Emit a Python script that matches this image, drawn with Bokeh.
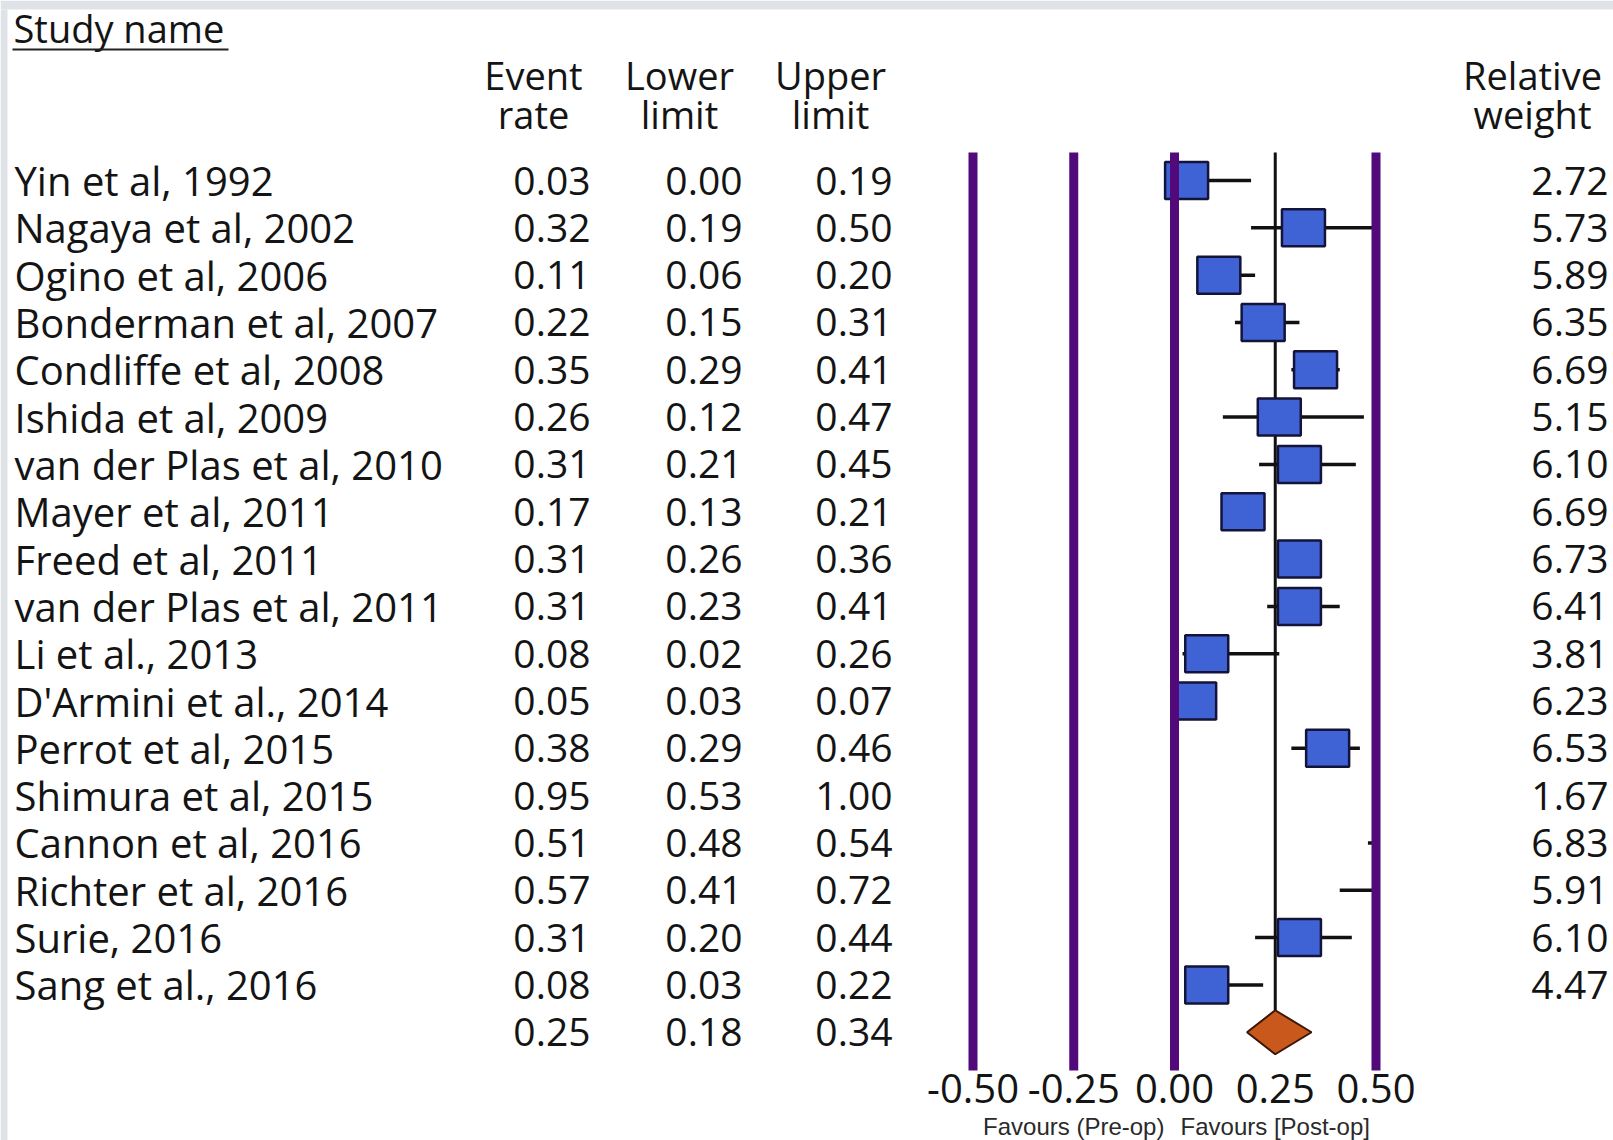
from bokeh.plotting import figure
from bokeh.models import Range1d, ColumnDataSource
from bokeh.core.properties import value
from bokeh.embed import file_html
from bokeh.resources import INLINE
import numpy as np

# ---------------- data ----------------
studies = ["Yin et al, 1992", "Nagaya et al, 2002", "Ogino et al, 2006",
           "Bonderman et al, 2007", "Condliffe et al, 2008", "Ishida et al, 2009",
           "van der Plas et al, 2010", "Mayer et al, 2011", "Freed et al, 2011",
           "van der Plas et al, 2011", "Li et al., 2013", "D'Armini et al., 2014",
           "Perrot et al, 2015", "Shimura et al, 2015", "Cannon et al, 2016",
           "Richter et al, 2016", "Surie, 2016", "Sang et al., 2016"]
event_rate = [0.03, 0.32, 0.11, 0.22, 0.35, 0.26, 0.31, 0.17, 0.31, 0.31,
              0.08, 0.05, 0.38, 0.95, 0.51, 0.57, 0.31, 0.08]
lower_limit = [0.00, 0.19, 0.06, 0.15, 0.29, 0.12, 0.21, 0.13, 0.26, 0.23,
               0.02, 0.03, 0.29, 0.53, 0.48, 0.41, 0.20, 0.03]
upper_limit = [0.19, 0.50, 0.20, 0.31, 0.41, 0.47, 0.45, 0.21, 0.36, 0.41,
               0.26, 0.07, 0.46, 1.00, 0.54, 0.72, 0.44, 0.22]
rel_weight = [2.72, 5.73, 5.89, 6.35, 6.69, 5.15, 6.10, 6.69, 6.73, 6.41,
              3.81, 6.23, 6.53, 1.67, 6.83, 5.91, 6.10, 4.47]
pooled_rate = 0.25
pooled_lower = 0.18
pooled_upper = 0.34
axis_ticks = [-0.50, -0.25, 0.00, 0.25, 0.50]
ref_lines = [-0.50, -0.25, 0.00, 0.50]
favour_labels = ["Favours (Pre-op)", "Favours [Post-op]"]
favour_pos = [-0.25, 0.25]
x_min, x_max = -0.5, 0.5

# ---------------- layout helpers ----------------
W, H = 1613, 1140
PXU = 403.0                      # pixels per unit on the forest axis
X0 = x_min - 972.5 / PXU
X1 = X0 + W / PXU
RH = 47.32                       # row height in pixels
ROW0 = 180.0                     # centre of first row in pixels
Y_T = -ROW0 / RH
Y_B = Y_T + H / RH

def xd(px):
    return X0 + px / PXU

def yd(py):
    return (py - ROW0) / RH

FONT = value("Open Sans")
TXT = "#141414"
FS = "39px"
n = len(studies)
rows = np.arange(n)
summary_row = n

p = figure(width=W, height=H, x_range=Range1d(X0, X1), y_range=Range1d(Y_B, Y_T),
           output_backend="svg", toolbar_location=None,
           x_axis_location=None, y_axis_location=None, min_border=0)
p.grid.visible = False
p.outline_line_color = None
p.background_fill_color = "#ffffff"
p.border_fill_color = "#ffffff"

# page frame bands
gray = "#dfe3e8"
p.quad(left=X0, right=X1, top=Y_T, bottom=yd(9), fill_color=gray, line_color=None)
p.quad(left=X0, right=xd(7), top=yd(9), bottom=Y_B, fill_color=gray, line_color=None)

# ---------------- headers ----------------
p.text(x=[xd(13)], y=[yd(27)], text=["Study name"], text_font=FONT,
       text_font_size="38px", text_color=TXT, text_baseline="middle")
p.segment(x0=[xd(12)], y0=[yd(49)], x1=[xd(228)], y1=[yd(49)],
          line_color="#222222", line_width=2)

hdr_x = [xd(533), xd(679), xd(830), xd(1532)]
hdr1 = ["Event", "Lower", "Upper", "Relative"]
hdr2 = ["rate", "limit", "limit", "weight"]
p.text(x=hdr_x, y=[yd(74)] * 4, text=hdr1, text_font=FONT, text_font_size="38px",
       text_color=TXT, text_align="center", text_baseline="middle")
p.text(x=hdr_x, y=[yd(113)] * 4, text=hdr2, text_font=FONT, text_font_size="38px",
       text_color=TXT, text_align="center", text_baseline="middle")

# ---------------- table columns ----------------
yc = list(rows.astype(float))
p.text(x=[xd(14)] * n, y=yc, text=studies, text_font=FONT, text_font_size="40px",
       text_color=TXT, text_baseline="middle")

col_er = [f"{v:.2f}" for v in event_rate] + [f"{pooled_rate:.2f}"]
col_lo = [f"{v:.2f}" for v in lower_limit] + [f"{pooled_lower:.2f}"]
col_hi = [f"{v:.2f}" for v in upper_limit] + [f"{pooled_upper:.2f}"]
yc_all = list(np.arange(n + 1).astype(float))
for colx, col in ((590, col_er), (742, col_lo), (892, col_hi)):
    p.text(x=[xd(colx)] * (n + 1), y=yc_all, text=col, text_font=FONT,
           text_font_size=FS, text_color=TXT, text_align="right",
           text_baseline="middle")
p.text(x=[xd(1608)] * n, y=yc, text=[f"{v:.2f}" for v in rel_weight], text_font=FONT,
       text_font_size=FS, text_color=TXT, text_align="right",
       text_baseline="middle")

# ---------------- forest plot ----------------
dia_h = 22.0 / RH
line_top = yd(152)
line_bot = yd(1070)

# pooled estimate line
p.segment(x0=[pooled_rate], y0=[line_top], x1=[pooled_rate], y1=[summary_row - dia_h],
          line_color="#111111", line_width=3)

# whiskers (clipped to the axis range)
er = np.array(event_rate)
lo = np.clip(np.array(lower_limit), x_min, x_max)
hi = np.clip(np.array(upper_limit), x_min, x_max)
wm = np.array(lower_limit) < x_max
p.segment(x0=lo[wm], y0=rows[wm], x1=hi[wm], y1=rows[wm],
          line_color="#111111", line_width=3.5)

# boxes (only estimates inside the axis range)
bm = (er >= x_min) & (er <= x_max)
box_src = ColumnDataSource(dict(x=er[bm], y=rows[bm], w=np.array(rel_weight)[bm]))
p.rect(x="x", y="y", width=43, height=37, width_units="screen", height_units="screen",
       source=box_src, fill_color="#3f62d4", line_color="#14143a", line_width=2.5)

# summary diamond
p.patch(x=[pooled_lower, pooled_rate, pooled_upper, pooled_rate],
        y=[summary_row, summary_row - dia_h, summary_row, summary_row + dia_h],
        fill_color="#c9581c", line_color="#3a1706", line_width=2)

# reference lines
p.segment(x0=ref_lines, y0=[line_top] * len(ref_lines), x1=ref_lines,
          y1=[line_bot] * len(ref_lines), line_color="#520a7a", line_width=9)

# axis tick labels
p.text(x=axis_ticks, y=[yd(1088)] * len(axis_ticks), text=[f"{t:.2f}" for t in axis_ticks],
       text_font=FONT, text_font_size="40px", text_color=TXT, text_align="center",
       text_baseline="middle")

# favours labels
p.text(x=favour_pos, y=[yd(1126)] * 2, text=favour_labels,
       text_font=value("Liberation Sans"), text_font_size="24px", text_color="#2a2a2a",
       text_align="center", text_baseline="middle")

open("out.html", "w").write(file_html(p, INLINE))
